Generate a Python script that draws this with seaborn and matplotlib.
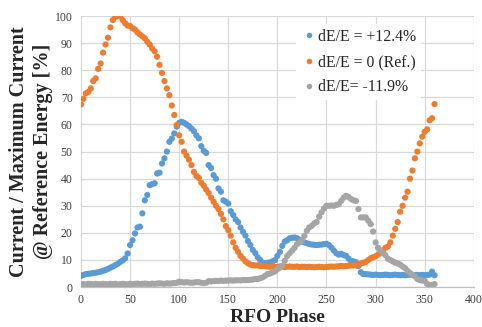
import numpy as np
import pandas as pd
import matplotlib
matplotlib.use("Agg")
import matplotlib.pyplot as plt
import seaborn as sns
from matplotlib.lines import Line2D

# RFO phase samples (degrees)
phase = np.arange(0, 362.5, 2.5)

series_names = ["dE/E = +12.4%", "dE/E = 0 (Ref.)", "dE/E= -11.9%"]

plus_12_4 = [
    4.1, 4.5, 4.8, 4.9, 5.0, 5.2, 5.3, 5.5, 5.7, 6.0,
    6.3, 6.7, 7.2, 7.6, 8.1, 8.6, 9.3, 9.8, 10.6, 12.4,
    15.5, 17.3, 19.8, 22.0, 22.3, 27.2, 32.0, 34.0, 37.6, 38.0,
    38.3, 41.9, 42.2, 45.6, 47.5, 50.0, 53.6, 54.8, 56.7, 59.2,
    60.6, 61.0, 60.6, 60.0, 59.4, 58.5, 57.5, 56.0, 54.9, 52.0,
    50.3, 49.5, 45.0, 43.9, 41.3, 40.0, 36.4, 35.2, 32.0, 31.5,
    30.8, 28.0, 26.6, 25.0, 24.0, 22.0, 20.4, 19.0, 17.0, 15.5,
    13.7, 12.5, 11.0, 10.0, 9.0, 8.8, 9.0, 9.1, 9.5, 9.9,
    11.5, 13.0, 15.2, 16.8, 17.3, 18.0, 18.2, 18.3, 18.0, 17.5,
    16.8, 16.5, 16.2, 15.9, 15.7, 15.6, 15.5, 15.6, 15.7, 15.9,
    16.0, 15.5, 14.6, 13.5, 12.5, 12.0, 12.3, 11.8, 11.5, 10.5,
    9.7, 9.5, 9.2, 7.8, 5.5, 4.8, 4.8, 4.7, 4.6, 4.5,
    4.6, 4.5, 4.4, 4.5, 4.6, 4.5, 4.4, 4.5, 4.6, 4.5,
    4.4, 4.5, 4.4, 4.5, 4.6, 4.5, 4.4, 4.5, 4.4, 4.5,
    4.4, 4.5, 4.6, 5.7, 4.4,
]

ref_0 = [
    67.4, 69.5, 71.5, 72.0, 73.3, 76.0, 77.0, 80.5, 82.5, 86.5,
    89.5, 92.0, 95.8, 98.5, 99.7, 100.0, 99.8, 98.5, 97.3, 96.5,
    96.3, 95.5, 95.0, 94.0, 93.2, 92.5, 91.8, 90.5, 89.5, 88.0,
    87.0, 85.0, 82.0, 79.0, 76.0, 73.3, 70.8, 67.0, 63.5, 59.8,
    56.0, 53.6, 50.0, 48.5, 47.0, 45.0, 42.5, 41.0, 40.3, 38.5,
    37.4, 36.0, 34.7, 33.0, 31.5, 30.0, 28.8, 27.0, 25.0, 22.5,
    21.0, 19.0, 16.5, 14.5, 13.0, 11.5, 10.5, 9.5, 8.8, 8.3,
    8.1, 8.0, 8.0, 7.8, 7.8, 7.7, 7.6, 7.5, 7.6, 7.4,
    7.5, 7.6, 7.5, 7.4, 7.5, 7.6, 7.5, 7.5, 7.6, 7.4,
    7.5, 7.5, 7.4, 7.5, 7.4, 7.3, 7.4, 7.5, 7.4, 7.3,
    7.4, 7.5, 7.6, 7.5, 7.6, 7.7, 7.8, 7.7, 7.8, 7.9,
    8.0, 8.0, 8.0, 8.3, 8.7, 9.0, 9.3, 10.0, 10.6, 11.0,
    11.4, 12.0, 12.5, 13.5, 14.5, 15.0, 16.5, 19.0, 21.5, 24.0,
    27.8, 30.0, 33.0, 35.2, 40.0, 43.0, 47.5, 50.0, 53.0, 55.5,
    57.3, 58.2, 61.5, 62.3, 67.5,
]

minus_11_9 = [
    1.0, 1.1, 1.0, 1.2, 1.1, 1.0, 1.2, 1.1, 1.0, 1.2,
    1.1, 1.0, 1.2, 1.1, 1.2, 1.0, 1.1, 1.2, 1.1, 1.0,
    1.2, 1.1, 1.2, 1.3, 1.1, 1.2, 1.3, 1.2, 1.1, 1.3,
    1.2, 1.3, 1.4, 1.3, 1.2, 1.4, 1.3, 1.4, 1.5, 1.6,
    2.0, 1.8, 1.7, 1.8, 1.7, 1.6, 1.7, 1.8, 1.8, 1.6,
    1.5, 1.6, 2.2, 2.1, 2.2, 2.3, 2.3, 2.4, 2.3, 2.4,
    2.4, 2.5, 2.4, 2.5, 2.5, 2.5, 2.6, 2.6, 2.6, 2.7,
    2.8, 3.0, 3.0, 3.3, 3.6, 4.2, 4.8, 5.0, 5.4, 5.8,
    6.6, 7.2, 7.9, 9.7, 11.5, 12.5, 13.5, 14.5, 15.9, 16.5,
    17.2, 18.9, 20.8, 22.0, 22.6, 23.5, 24.0, 26.0, 27.6, 29.0,
    30.0, 30.0, 30.1, 30.0, 30.3, 30.6, 31.8, 33.0, 33.7, 33.2,
    32.5, 32.0, 31.8, 28.8, 25.7, 25.7, 25.7, 24.5, 23.2, 20.5,
    16.5, 14.5, 13.5, 12.5, 11.8, 10.5, 10.0, 9.5, 9.0, 8.7,
    8.3, 7.6, 7.0, 6.0, 5.2, 4.5, 4.0, 3.0, 2.6, 2.4,
    2.3, 1.2, 0.6, 0.8, 1.1,
]

colors = ["#5B9BD5", "#ED7D31", "#A5A5A5"]

df = pd.concat([
    pd.DataFrame({"phase": phase, "value": vals, "series": name})
    for name, vals in zip(series_names, [plus_12_4, ref_0, minus_11_9])
], ignore_index=True)

sns.set_theme(style="white")
plt.rcParams["font.family"] = ["Liberation Serif", "DejaVu Serif"]

fig = plt.figure(figsize=(4.82, 3.27), dpi=100)
ax = fig.add_axes([0.168, 0.122, 0.815, 0.829])

sns.scatterplot(data=df, x="phase", y="value", hue="series",
                hue_order=series_names, palette=colors,
                s=20, linewidth=0, edgecolor="none", alpha=1.0,
                ax=ax, legend=False, zorder=3)

ax.set_xlim(0, 400)
ax.set_ylim(0, 100)
ax.set_xticks(np.arange(0, 401, 50))
ax.set_yticks(np.arange(0, 101, 10))
ax.grid(True, color="#d9d9d9", linewidth=0.9, zorder=0)
ax.set_axisbelow(True)
for side in ["top", "right", "left"]:
    ax.spines[side].set_visible(False)
ax.spines["bottom"].set_color("#bfbfbf")
ax.spines["bottom"].set_linewidth(0.9)
ax.tick_params(axis="x", length=0, labelsize=8.5, colors="#404040", pad=5)
ax.tick_params(axis="y", length=0, labelsize=8.5, colors="#404040", pad=6)

ax.set_xlabel("RFO Phase", fontsize=14, fontweight="bold", labelpad=2)
ax.set_ylabel("Current / Maximum Current\n@ Reference Energy [%]",
              fontsize=14.5, fontweight="bold", labelpad=1, linespacing=1.3)

handles = [Line2D([], [], marker="o", linestyle="none", markersize=4,
                  markerfacecolor=c, markeredgecolor="none") for c in colors]
leg = ax.legend(handles, series_names, loc="upper right",
                bbox_to_anchor=(0.885, 1.0), fontsize=11.3,
                frameon=True, framealpha=1.0, edgecolor="white",
                facecolor="white", handletextpad=0.1, labelspacing=0.6,
                handlelength=1.0, borderpad=0.3)
leg.get_frame().set_linewidth(0)

fig.savefig("out.png", dpi=100)
